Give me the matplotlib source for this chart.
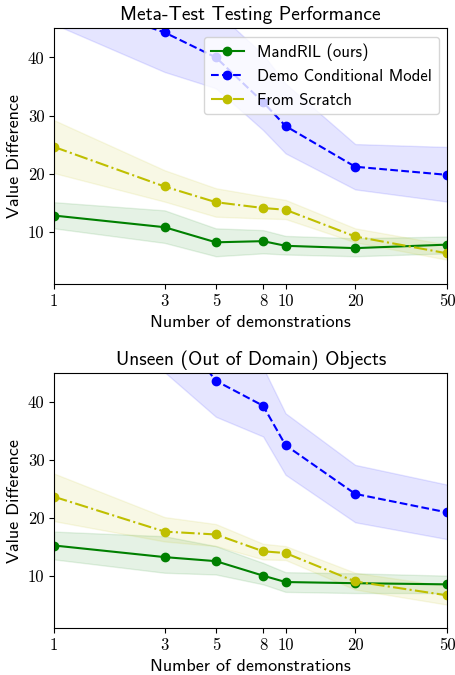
import numpy as np
import matplotlib
matplotlib.use('Agg')
import matplotlib.pyplot as plt

plt.rcParams['font.family'] = 'cmss10'
plt.rcParams['axes.unicode_minus'] = False

demos = [1, 3, 5, 8, 10, 20, 50]
tick_labels = ['1', '3', '5', '8', '10', '20', '50']

# Meta-test testing performance
top_mandril = [12.8, 10.8, 8.2, 8.4, 7.6, 7.2, 7.8]
top_mandril_lo = [10.6, 8.1, 5.8, 6.3, 6.1, 5.8, 6.3]
top_mandril_hi = [15.1, 13.7, 10.6, 10.3, 9.3, 8.9, 9.2]
top_demo = [50.7, 44.3, 40.0, 32.3, 28.2, 21.2, 19.8]
top_demo_lo = [45.7, 37.5, 34.7, 27.5, 23.5, 17.3, 15.2]
top_demo_hi = [56.0, 50.0, 48.0, 40.5, 35.5, 25.1, 24.6]
top_scratch = [24.6, 17.8, 15.1, 14.1, 13.8, 9.2, 6.3]
top_scratch_lo = [20.1, 15.2, 12.6, 12.3, 12.2, 8.2, 5.2]
top_scratch_hi = [29.2, 20.6, 17.5, 16.1, 15.5, 10.6, 7.8]

# Unseen (out of domain) objects
bot_mandril = [15.3, 13.3, 12.6, 10.1, 9.0, 8.8, 8.6]
bot_mandril_lo = [12.9, 10.6, 10.3, 8.6, 7.3, 7.1, 7.1]
bot_mandril_hi = [17.7, 16.9, 15.2, 12.3, 10.7, 10.5, 10.1]
bot_demo = [62.0, 55.2, 43.7, 39.4, 32.6, 24.2, 21.0]
bot_demo_lo = [52.0, 45.2, 37.5, 34.1, 27.5, 19.3, 16.4]
bot_demo_hi = [72.0, 62.0, 52.0, 46.0, 38.1, 29.2, 25.8]
bot_scratch = [23.7, 17.7, 17.2, 14.3, 14.0, 9.1, 6.7]
bot_scratch_lo = [19.5, 16.0, 15.2, 12.9, 12.8, 7.7, 5.1]
bot_scratch_hi = [27.7, 20.2, 19.0, 15.6, 15.2, 10.6, 8.3]


def draw(ax, title, mandril, mandril_lo, mandril_hi, demo, demo_lo, demo_hi,
         scratch, scratch_lo, scratch_hi, legend=False):
    ax.plot(demos, mandril, 'g-o', markersize=6, label='MandRIL (ours)')
    ax.fill_between(demos, mandril_lo, mandril_hi, color='g', alpha=0.1)
    ax.plot(demos, demo, 'b--o', markersize=6, label='Demo Conditional Model')
    ax.fill_between(demos, demo_lo, demo_hi, color='b', alpha=0.1)
    ax.plot(demos, scratch, 'y-.o', markersize=6, label='From Scratch')
    ax.fill_between(demos, scratch_lo, scratch_hi, color='y', alpha=0.1)
    ax.set_xscale('log')
    ax.set_xlim(1, 50)
    ax.set_ylim(1, 45)
    ax.set_xticks(demos)
    ax.set_xticklabels(tick_labels)
    ax.xaxis.set_minor_locator(matplotlib.ticker.NullLocator())
    ax.set_yticks([10, 20, 30, 40])
    ax.tick_params(labelsize=12, labelfontfamily='cmr10')
    ax.set_title(title, fontsize=14)
    ax.set_xlabel('Number of demonstrations', fontsize=13)
    ax.set_ylabel('Value Difference', fontsize=13)
    if legend:
        ax.legend(loc='upper right', fontsize=12)


fig = plt.figure(figsize=(4.55, 6.75), dpi=100)
ax1 = fig.add_axes([0.119, 0.579, 0.864, 0.379])
ax2 = fig.add_axes([0.119, 0.069, 0.864, 0.378])

draw(ax1, 'Meta-Test Testing Performance', top_mandril, top_mandril_lo, top_mandril_hi,
     top_demo, top_demo_lo, top_demo_hi, top_scratch, top_scratch_lo, top_scratch_hi,
     legend=True)
draw(ax2, 'Unseen (Out of Domain) Objects', bot_mandril, bot_mandril_lo, bot_mandril_hi,
     bot_demo, bot_demo_lo, bot_demo_hi, bot_scratch, bot_scratch_lo, bot_scratch_hi)

fig.savefig('out.png', dpi=100)
